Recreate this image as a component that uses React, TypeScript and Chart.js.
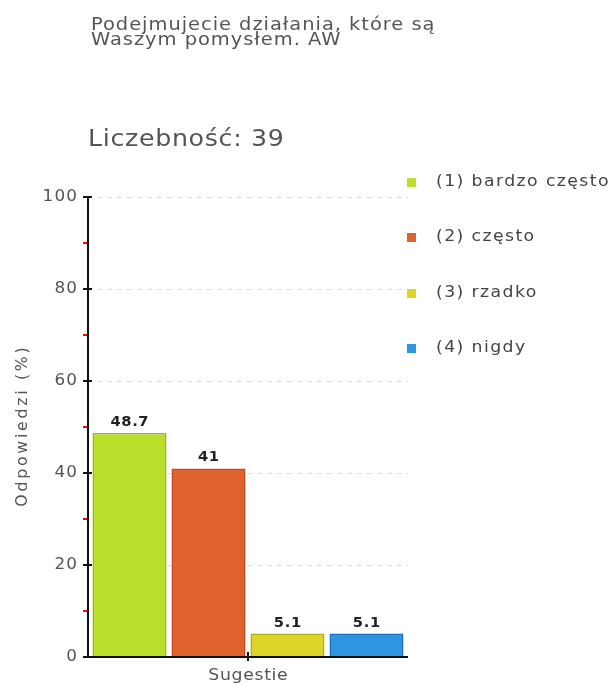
import React, { useEffect, useRef } from "react";
import { Chart, registerables } from "chart.js";

Chart.register(...registerables);

const titleLines = ["Podejmujecie działania, które są", "Waszym pomysłem. AW"];
const countLabel = "Liczebność: 39";
const categories = ["Sugestie"];
const seriesNames = ["(1) bardzo często", "(2) często", "(3) rzadko", "(4) nigdy"];
const seriesValues = [48.7, 41, 5.1, 5.1];
const seriesFill = ["#bbe02b", "#e0632e", "#ddd42a", "#2e95e0"];
const seriesBorder = ["#97b81c", "#c04a18", "#b5ac19", "#1b72c2"];
const yTitle = "Odpowiedzi (%)";
const yMin = 0;
const yMax = 100;
const yStep = 20;
const yMinorStep = 10;

const FONT = "'DejaVu Sans', Verdana, sans-serif";

function txt(
  ctx: CanvasRenderingContext2D,
  s: string,
  x: number,
  y: number,
  size: number,
  color: string,
  ls: number,
  align: CanvasTextAlign = "left",
  baseline: CanvasTextBaseline = "alphabetic",
  weight = "normal",
  sx = 1.08
) {
  ctx.save();
  ctx.font = `${weight} ${size}px ${FONT}`;
  (ctx as any).letterSpacing = `${ls}px`;
  ctx.fillStyle = color;
  ctx.textBaseline = baseline;
  const w = (ctx.measureText(s).width - ls) * sx;
  let px = x;
  if (align === "center") px = x - w / 2;
  else if (align === "right") px = x - w;
  ctx.textAlign = "left";
  ctx.translate(px, y);
  ctx.scale(sx, 1);
  ctx.fillText(s, 0, 0);
  ctx.restore();
}

const decorPlugin = {
  id: "decor",
  beforeDatasetsDraw(chart: any) {
    const ctx: CanvasRenderingContext2D = chart.ctx;
    const ys = chart.scales.y;
    const area = chart.chartArea;
    ctx.save();
    ctx.strokeStyle = "#dcdcdc";
    ctx.lineWidth = 1;
    ctx.setLineDash([5, 5]);
    for (let v = yMin + yStep; v <= yMax; v += yStep) {
      const py = Math.round(ys.getPixelForValue(v)) + 0.5;
      ctx.beginPath();
      ctx.moveTo(area.left + 9, py);
      ctx.lineTo(area.right, py);
      ctx.stroke();
    }
    ctx.restore();
  },
  afterDatasetsDraw(chart: any) {
    const ctx: CanvasRenderingContext2D = chart.ctx;
    const ys = chart.scales.y;
    const xs = chart.scales.x;
    const area = chart.chartArea;
    const L = Math.round(area.left);
    const B = Math.round(area.bottom);

    ctx.save();
    ctx.fillStyle = "#111";
    ctx.fillRect(L - 1, Math.round(area.top), 2, B - Math.round(area.top) + 1);
    ctx.fillRect(L - 3, B - 1, Math.round(area.right) - L + 3, 2);

    ctx.fillStyle = "#ff0000";
    for (let v = yMin + yMinorStep; v < yMax; v += yStep) {
      const py = Math.round(ys.getPixelForValue(v));
      ctx.fillRect(L - 5, py - 1, 4, 2);
    }
    ctx.fillStyle = "#111";
    for (let v = yMin; v <= yMax; v += yStep) {
      const py = Math.round(ys.getPixelForValue(v));
      ctx.fillRect(L - 5, py - 1, 9, 2);
      txt(ctx, String(v), L - 11, py, 16, "#555", 1.1, "right", "middle", "normal", 1.05);
    }
    categories.forEach((c, i) => {
      const px = Math.round(xs.getPixelForValue(i));
      ctx.fillStyle = "#111";
      ctx.fillRect(px - 1, B - 5, 2, 9);
      txt(ctx, c, px, B + 23, 16, "#555", 0.6, "center", "alphabetic");
    });
    ctx.restore();

    ctx.save();
    ctx.translate(23, (area.top + area.bottom) / 2);
    ctx.rotate(-Math.PI / 2);
    txt(ctx, yTitle, 0, 0, 15, "#555", 2.6, "center", "middle", "normal", 1.05);
    ctx.restore();

    chart.data.datasets.forEach((ds: any, i: number) => {
      const meta = chart.getDatasetMeta(i);
      meta.data.forEach((bar: any, j: number) => {
        const v = ds.data[j];
        txt(ctx, String(v), bar.x, bar.y - 7, 14, "#222", 0.6, "center", "alphabetic", "bold", 1.05);
      });
    });

    txt(ctx, titleLines[0], 91, 30, 18, "#555", 0.9);
    txt(ctx, titleLines[1], 91, 45, 18, "#555", 0.9);
    txt(ctx, countLabel, 88, 146, 23, "#555", 0.6, "left", "alphabetic", "normal", 1.1);

    chart.data.datasets.forEach((ds: any, i: number) => {
      const cy = 182 + i * 55.3;
      ctx.save();
      ctx.fillStyle = ds.backgroundColor;
      ctx.fillRect(407, Math.round(cy) - 4, 9, 9);
      ctx.restore();
      txt(ctx, ds.label, 436, cy, 16, "#444", 1.3, "left", "middle");
    });
  },
};

export default function App() {
  const ref = useRef<HTMLCanvasElement | null>(null);
  useEffect(() => {
    if (!ref.current) return;
    const chart = new Chart(ref.current, {
      type: "bar",
      data: {
        labels: categories,
        datasets: seriesNames.map((name, i) => ({
          label: name,
          data: [seriesValues[i]],
          backgroundColor: seriesFill[i],
          borderColor: seriesBorder[i],
          borderWidth: 1.5,
          categoryPercentage: 0.9875,
          barPercentage: 0.937,
        })),
      },
      options: {
        animation: false,
        responsive: false,
        devicePixelRatio: 1,
        layout: { padding: { left: 88, right: 204, top: 197, bottom: 27 } },
        plugins: { legend: { display: false }, title: { display: false }, tooltip: { enabled: false } },
        scales: {
          x: {
            ticks: { display: false },
            grid: { display: false, drawTicks: false },
            border: { display: false },
            afterFit: (s: any) => { s.height = 0; s.paddingLeft = 0; s.paddingRight = 0; },
          },
          y: {
            min: yMin,
            max: yMax,
            ticks: { display: false, stepSize: yStep },
            grid: { display: false, drawTicks: false },
            border: { display: false },
            afterFit: (s: any) => { s.width = 0; s.paddingTop = 0; s.paddingBottom = 0; },
          },
        },
      },
      plugins: [decorPlugin],
    });
    return () => chart.destroy();
  }, []);
  return (
    <div style={{ position: "absolute", left: 0, top: 0, width: 612, height: 684, background: "#fff" }}>
      <canvas ref={ref} width={612} height={684} style={{ display: "block" }} />
    </div>
  );
}
